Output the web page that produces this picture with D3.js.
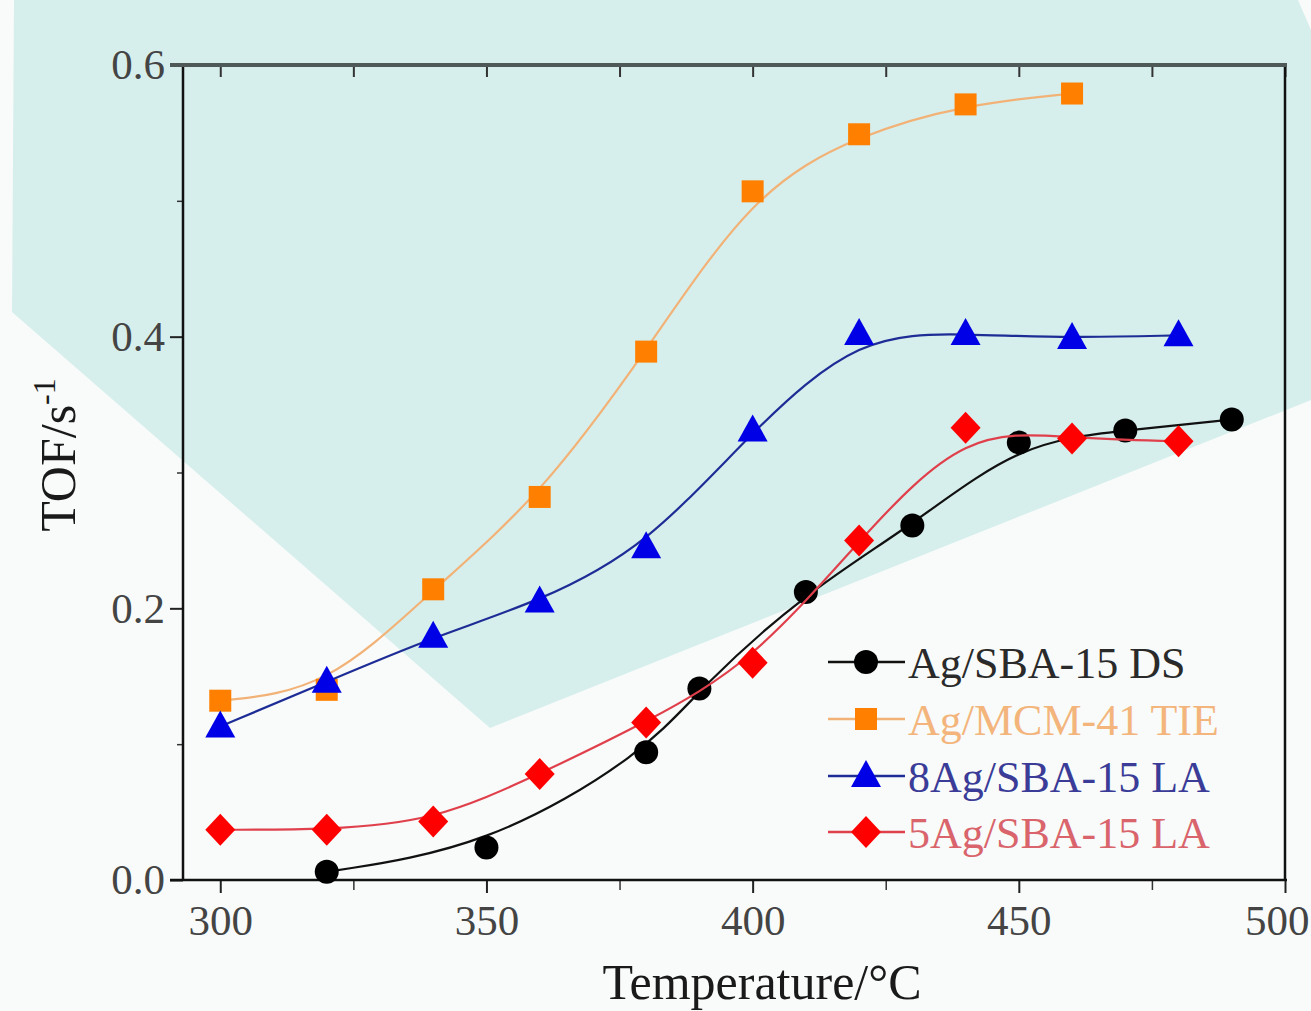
<!DOCTYPE html>
<html><head><meta charset="utf-8">
<script src="https://cdn.jsdelivr.net/npm/d3@7"></script>
<style>html,body{margin:0;padding:0;background:#f8fbf9;}svg{display:block;}</style>
</head><body>
<script>
const temps_DS   = [320, 350, 380, 390, 410, 430, 450, 470, 490];
const tof_DS     = [0.006, 0.024, 0.094, 0.141, 0.212, 0.261, 0.322, 0.331, 0.339];
const temps_MCM  = [300, 320, 340, 360, 380, 400, 420, 440, 460];
const tof_MCM    = [0.132, 0.140, 0.214, 0.282, 0.389, 0.507, 0.549, 0.571, 0.579];
const temps_8Ag  = [300, 320, 340, 360, 380, 400, 420, 440, 460, 480];
const tof_8Ag    = [0.113, 0.146, 0.179, 0.205, 0.245, 0.331, 0.402, 0.402, 0.399, 0.401];
const temps_5Ag  = [300, 320, 340, 360, 380, 400, 420, 440, 460, 480];
const tof_5Ag    = [0.037, 0.037, 0.043, 0.078, 0.116, 0.160, 0.250, 0.333, 0.325, 0.323];
const seriesNames = ["Ag/SBA-15 DS", "Ag/MCM-41 TIE", "8Ag/SBA-15 LA", "5Ag/SBA-15 LA"];
const xMajorTicks = [300, 350, 400, 450, 500];
const xMinorTicks = [325, 375, 425, 475];
const yMajorTicks = [0.0, 0.2, 0.4, 0.6];
const yMinorTicks = [0.1, 0.3, 0.5];

const W = 1311, H = 1011;
const svg = d3.select("body").append("svg").attr("width", W).attr("height", H);

// background shapes
svg.append("rect").attr("width", W).attr("height", H).attr("fill", "#f8fbf9");
svg.append("polygon")
  .attr("points", [[14,0],[1298,0],[1311,30],[1311,400],[490,728],[12,312]].map(p=>p.join(",")).join(" "))
  .attr("fill", "#d6efec");

const x = d3.scaleLinear().domain([293, 500]).range([183, 1285]);
const y = d3.scaleLinear().domain([0, 0.6]).range([880, 65]);

const series = [
  {name: seriesNames[0], xs: temps_DS,  ys: tof_DS,  line: "#111111", fill: "#000000", text: "#2a2a2a", shape: "circle"},
  {name: seriesNames[1], xs: temps_MCM, ys: tof_MCM, line: "#f2b277", fill: "#ff8000", text: "#f3b57c", shape: "square"},
  {name: seriesNames[2], xs: temps_8Ag, ys: tof_8Ag, line: "#1e2c96", fill: "#0000e6", text: "#3a3c98", shape: "triangle"},
  {name: seriesNames[3], xs: temps_5Ag, ys: tof_5Ag, line: "#e0404c", fill: "#ff0000", text: "#d9646c", shape: "diamond"}
];

const line = d3.line().x(d=>x(d[0])).y(d=>y(d[1])).curve(d3.curveBasis);

function marker(g, shape, cx, cy, fill) {
  if (shape === "circle") g.append("circle").attr("cx", cx).attr("cy", cy).attr("r", 12).attr("fill", fill);
  else if (shape === "square") g.append("rect").attr("x", cx-11).attr("y", cy-11).attr("width", 22).attr("height", 22).attr("fill", fill);
  else if (shape === "triangle") g.append("path").attr("d", `M${cx},${cy-16}L${cx+15},${cy+11}L${cx-15},${cy+11}Z`).attr("fill", fill);
  else g.append("path").attr("d", `M${cx},${cy-16}L${cx+15},${cy}L${cx},${cy+16}L${cx-15},${cy}Z`).attr("fill", fill);
}

const tickFont = "Liberation Serif, Times New Roman, serif";
// bottom axis
const xAxis = d3.axisBottom(x).tickValues(xMajorTicks).tickSize(13).tickFormat(d3.format("d"));
const gx = svg.append("g").attr("transform", "translate(0,880)").call(xAxis);
gx.select(".domain").remove();
gx.selectAll(".tick line").attr("stroke", "#222").attr("stroke-width", 2);
gx.selectAll(".tick text").attr("font-family", tickFont).attr("font-size", 43).attr("fill", "#444").attr("dy", null).attr("y", 55);
gx.selectAll(".tick text").filter(d => d === 500).attr("text-anchor", "end").attr("x", 1309 - 1285);
const gxm = svg.append("g").attr("transform", "translate(0,880)").call(d3.axisBottom(x).tickValues(xMinorTicks).tickSize(10).tickFormat(""));
gxm.select(".domain").remove();
gxm.selectAll(".tick line").attr("stroke", "#333").attr("stroke-width", 1.5);
// top axis ticks inward
const gt = svg.append("g").attr("transform", "translate(0,65)").call(d3.axisBottom(x).tickValues(xMajorTicks.concat(xMinorTicks)).tickSize(12).tickFormat(""));
gt.select(".domain").remove();
gt.selectAll(".tick line").attr("stroke", "#333").attr("stroke-width", 2);
// left axis
const gy = svg.append("g").attr("transform", "translate(183,0)").call(d3.axisLeft(y).tickValues(yMajorTicks).tickSize(13).tickFormat(d3.format(".1f")));
gy.select(".domain").remove();
gy.selectAll(".tick line").attr("stroke", "#222").attr("stroke-width", 2);
gy.selectAll(".tick text").attr("font-family", tickFont).attr("font-size", 43).attr("fill", "#444").attr("x", -18);
const gym = svg.append("g").attr("transform", "translate(183,0)").call(d3.axisLeft(y).tickValues(yMinorTicks).tickSize(6).tickFormat(""));
gym.select(".domain").remove();
gym.selectAll(".tick line").attr("stroke", "#333").attr("stroke-width", 1.5);

// frame lines
svg.append("line").attr("x1", 183).attr("x2", 183).attr("y1", 65).attr("y2", 881).attr("stroke", "#111").attr("stroke-width", 2.5);
svg.append("line").attr("x1", 1285).attr("x2", 1285).attr("y1", 65).attr("y2", 881).attr("stroke", "#111").attr("stroke-width", 2.5);
svg.append("line").attr("x1", 170).attr("x2", 1287).attr("y1", 880).attr("y2", 880).attr("stroke", "#111").attr("stroke-width", 2.5);
svg.append("line").attr("x1", 170).attr("x2", 1287).attr("y1", 65).attr("y2", 65).attr("stroke", "#4f5a58").attr("stroke-width", 4);

// series
series.forEach(s => {
  const pts = s.xs.map((t,i)=>[t, s.ys[i]]);
  svg.append("path").attr("d", line(pts)).attr("fill", "none").attr("stroke", s.line).attr("stroke-width", 2.2);
  const g = svg.append("g");
  pts.forEach(p => marker(g, s.shape, x(p[0]), y(p[1]), s.fill));
});

// legend
const legY = [662, 719, 776, 832];
series.forEach((s, i) => {
  const g = svg.append("g");
  g.append("line").attr("x1", 828).attr("x2", 905).attr("y1", legY[i]).attr("y2", legY[i]).attr("stroke", s.line).attr("stroke-width", 2.5);
  marker(g, s.shape, 866, legY[i], s.fill);
  g.append("text").attr("x", 908).attr("y", legY[i] + 16).attr("font-family", tickFont).attr("font-size", 44).attr("fill", s.text).text(s.name);
});

// axis titles
svg.append("text").attr("x", 762).attr("y", 999).attr("text-anchor", "middle").attr("font-family", tickFont).attr("font-size", 50).attr("fill", "#1a1a1a").text("Temperature/°C");
const yt = svg.append("text").attr("transform", "translate(75,455) rotate(-90)").attr("text-anchor", "middle").attr("font-family", tickFont).attr("font-size", 50).attr("fill", "#1a1a1a");
yt.append("tspan").text("TOF/s");
yt.append("tspan").attr("dy", -20).attr("font-size", 32).text("-1");
</script>
</body></html>
